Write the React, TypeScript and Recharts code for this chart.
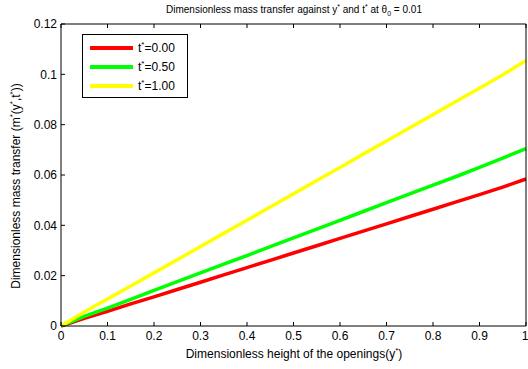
import React from "react";
import { LineChart, Line, XAxis, YAxis } from "recharts";

// y* positions along the opening
const heights = [
  0, 0.05, 0.1, 0.15, 0.2, 0.25, 0.3, 0.35, 0.4, 0.45, 0.5, 0.55, 0.6, 0.65,
  0.7, 0.75, 0.8, 0.85, 0.9, 0.95, 1,
];

// m*(y*, t*)
const massT000 = [
  0, 0.003, 0.0058, 0.0088, 0.0116, 0.0145, 0.0174, 0.0203, 0.0232, 0.0261,
  0.029, 0.0319, 0.0348, 0.0377, 0.0406, 0.0435, 0.0464, 0.0493, 0.0522,
  0.0552, 0.0584,
];
const massT050 = [
  0, 0.0038, 0.0071, 0.0106, 0.0142, 0.0176, 0.0211, 0.0246, 0.028, 0.0315,
  0.035, 0.0385, 0.042, 0.0455, 0.049, 0.0525, 0.056, 0.0594, 0.063, 0.0667,
  0.0705,
];
const massT100 = [
  0, 0.0056, 0.0107, 0.0159, 0.0211, 0.0263, 0.0316, 0.0368, 0.042, 0.0473,
  0.0525, 0.0578, 0.063, 0.0683, 0.0735, 0.0788, 0.084, 0.0893, 0.0945,
  0.0998, 0.1055,
];

const xTicks = [0, 0.1, 0.2, 0.3, 0.4, 0.5, 0.6, 0.7, 0.8, 0.9, 1];
const yTicks = [0, 0.02, 0.04, 0.06, 0.08, 0.1, 0.12];

const series = [
  { key: "t0", label: "0.00", values: massT000, color: "#ff0000" },
  { key: "t05", label: "0.50", values: massT050, color: "#00ff00" },
  { key: "t1", label: "1.00", values: massT100, color: "#ffff00" },
];

const data = heights.map((y, i) => {
  const row: Record<string, number> = { y };
  series.forEach((s) => (row[s.key] = s.values[i]));
  return row;
});

const font = "'Liberation Sans', Arial, sans-serif";

const fmtX = (v: number) => (v === 0 || v === 1 ? String(v) : v.toFixed(1));
const fmtY = (v: number) => (v === 0 ? "0" : String(+v.toFixed(2)));

const LegendBox = () => (
  <div
    style={{
      position: "absolute",
      left: 82,
      top: 34,
      border: "1.5px solid #000",
      background: "#fff",
      width: 104,
      padding: "3px 0 2px 0",
      fontFamily: font,
      fontSize: 12,
    }}
  >
    {series.map((s) => (
      <div
        key={s.key}
        style={{ display: "flex", alignItems: "center", height: 19 }}
      >
        <div
          style={{
            width: 43,
            height: 4,
            background: s.color,
            marginLeft: 7,
            marginRight: 5,
          }}
        />
        <span>
          t<sup style={{ fontSize: 8 }}>*</sup>={s.label}
        </span>
      </div>
    ))}
  </div>
);

export default function App() {
  return (
    <div
      style={{
        position: "absolute",
        left: 0,
        top: 0,
        width: 528,
        height: 369,
        background: "#fff",
        fontFamily: font,
      }}
    >
      <LineChart
        width={528}
        height={369}
        data={data}
        margin={{ top: 23, right: 1, bottom: 0, left: 0 }}
      >
        <XAxis
          xAxisId="bottom"
          dataKey="y"
          type="number"
          domain={[0, 1]}
          ticks={xTicks}
          tickFormatter={fmtX}
          tickSize={-4}
          tickMargin={9}
          height={43}
          axisLine={{ stroke: "#000" }}
          tickLine={{ stroke: "#000" }}
          tick={{ fill: "#000", fontSize: 12, fontFamily: font }}
        />
        <XAxis
          xAxisId="top"
          orientation="top"
          dataKey="y"
          type="number"
          domain={[0, 1]}
          ticks={xTicks}
          tickFormatter={() => ""}
          tickSize={-4}
          height={1}
          axisLine={{ stroke: "#000" }}
          tickLine={{ stroke: "#000" }}
        />
        <YAxis
          yAxisId="left"
          type="number"
          domain={[0, 0.12]}
          ticks={yTicks}
          tickFormatter={fmtY}
          tickSize={-4}
          tickMargin={8}
          width={61}
          axisLine={{ stroke: "#000" }}
          tickLine={{ stroke: "#000" }}
          tick={{ fill: "#000", fontSize: 12, fontFamily: font }}
        />
        <YAxis
          yAxisId="right"
          orientation="right"
          type="number"
          domain={[0, 0.12]}
          ticks={yTicks}
          tickFormatter={() => ""}
          tickSize={-4}
          width={1}
          axisLine={{ stroke: "#000" }}
          tickLine={{ stroke: "#000" }}
        />
        {series.map((s) => (
          <Line
            key={s.key}
            xAxisId="bottom"
            yAxisId="left"
            dataKey={s.key}
            stroke={s.color}
            strokeWidth={3.5}
            dot={false}
            type="linear"
            isAnimationActive={false}
          />
        ))}
      </LineChart>
      <LegendBox />
      <div
        style={{
          position: "absolute",
          left: 61,
          width: 466,
          top: 3,
          textAlign: "center",
          fontSize: 10,
          whiteSpace: "nowrap",
        }}
      >
        Dimensionless mass transfer against y<sup style={{ fontSize: 7 }}>*</sup>{" "}
        and t<sup style={{ fontSize: 7 }}>*</sup> at θ
        <sub style={{ fontSize: 7 }}>0</sub> = 0.01
      </div>
      <div
        style={{
          position: "absolute",
          left: 61,
          width: 466,
          top: 346,
          textAlign: "center",
          fontSize: 12,
          whiteSpace: "nowrap",
        }}
      >
        Dimensionless height of the openings(y<sup style={{ fontSize: 8 }}>*</sup>)
      </div>
      <div
        style={{
          position: "absolute",
          left: 15,
          top: 186,
          transform: "translate(-50%, -50%) rotate(-90deg)",
          fontSize: 12,
          whiteSpace: "nowrap",
        }}
      >
        Dimensionless mass transfer (m<sup style={{ fontSize: 8 }}>*</sup>(y
        <sup style={{ fontSize: 8 }}>*</sup>,t<sup style={{ fontSize: 8 }}>*</sup>))
      </div>
    </div>
  );
}
